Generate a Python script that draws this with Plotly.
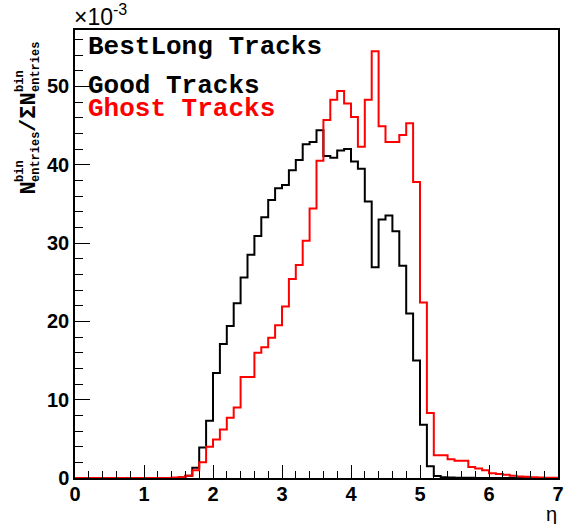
import plotly.graph_objects as go

# bin edges: 70 bins of width 0.1 from 0 to 7
bin_width = 0.1
n_bins = 70
edges = [round(i * bin_width, 1) for i in range(n_bins + 1)]

# normalized entries, in units of 1e-3 (bins 0.0 .. 6.9)
good_tracks = [0.0] * 15 + [
    0.05, 0.3, 1.3, 3.9, 7.3,                # 1.5 - 1.9
    13.4, 17.1, 19.4, 22.3, 25.6,            # 2.0 - 2.4
    28.5, 30.9, 33.3, 35.5, 37.0,            # 2.5 - 2.9
    37.4, 39.3, 40.6, 42.6, 42.9,            # 3.0 - 3.4
    44.4, 41.1, 40.9, 41.8, 42.0,            # 3.5 - 3.9
    40.4, 39.5, 35.3, 26.9, 33.0,            # 4.0 - 4.4
    33.5, 31.5, 27.1, 21.0, 15.0,            # 4.5 - 4.9
    6.8, 1.5, 0.25, 0.1, 0.05,               # 5.0 - 5.4
    0.03, 0.02, 0.02, 0.01, 0.01,            # 5.5 - 5.9
    0.0, 0.0, 0.0, 0.0, 0.0,                 # 6.0 - 6.4
    0.0, 0.0, 0.0, 0.0, 0.0,                 # 6.5 - 6.9
]
ghost_tracks = [0.0] * 14 + [
    0.05,                                    # 1.4
    0.1, 0.3, 1.0, 2.0, 4.0,                 # 1.5 - 1.9
    4.9, 6.2, 7.7, 9.0, 12.9,                # 2.0 - 2.4
    12.9, 16.0, 16.7, 17.9, 19.5,            # 2.5 - 2.9
    21.9, 25.4, 27.2, 30.3, 34.4,            # 3.0 - 3.4
    40.5, 45.7, 48.3, 49.4, 47.8,            # 3.5 - 3.9
    46.1, 42.3, 48.3, 54.5, 44.9,            # 4.0 - 4.4
    42.9, 42.9, 43.8, 45.3, 37.8,            # 4.5 - 4.9
    22.4, 8.3, 2.9, 2.9, 2.4,                # 5.0 - 5.4
    2.2, 2.2, 1.4, 1.2, 1.0,                 # 5.5 - 5.9
    0.6, 0.5, 0.4, 0.3, 0.2,                 # 6.0 - 6.4
    0.15, 0.1, 0.05, 0.03, 0.02,             # 6.5 - 6.9
]

x_ticks = [0, 1, 2, 3, 4, 5, 6, 7]
y_ticks = [0, 10, 20, 30, 40, 50]

W, H = 565, 524
ML, MR, MT, MB = 75, 7, 30, 46
PW, PH = W - ML - MR, H - MT - MB


def px(xp):
    return (xp - ML) / PW


def py(yp):
    return (H - MB - yp) / PH


def step(vals):
    return list(vals) + [vals[-1]]


fig = go.Figure()
fig.add_trace(go.Scatter(x=edges, y=step(good_tracks), mode="lines",
                         line=dict(shape="hv", color="black", width=2),
                         showlegend=False))
fig.add_trace(go.Scatter(x=edges, y=step(ghost_tracks), mode="lines",
                         line=dict(shape="hv", color="#ff0000", width=2),
                         showlegend=False))

tickfont = dict(family="Liberation Sans", size=20, color="black", weight="bold")
fig.update_layout(
    width=W, height=H,
    margin=dict(l=ML, r=MR, t=MT, b=MB, pad=0, autoexpand=False),
    paper_bgcolor="white", plot_bgcolor="white",
    xaxis=dict(range=[0, 7], tickvals=x_ticks, ticks="inside", ticklen=13,
               tickwidth=1, tickcolor="black", showline=True, mirror=True,
               linecolor="black", linewidth=1.5, showgrid=False, zeroline=False,
               tickfont=tickfont, ticklabelstandoff=-3, automargin=False,
               minor=dict(dtick=0.2, ticks="inside", ticklen=7, tickwidth=1,
                          tickcolor="black", showgrid=False)),
    yaxis=dict(range=[0, 57.2], tickvals=y_ticks, ticks="inside", ticklen=15,
               tickwidth=1, tickcolor="black", showline=True, mirror=True,
               linecolor="black", linewidth=1.5, showgrid=False, zeroline=False,
               tickfont=tickfont, automargin=False,
               minor=dict(dtick=2, ticks="inside", ticklen=8, tickwidth=1,
                          tickcolor="black", showgrid=False)),
)

mono = "Liberation Mono"
ann = []
# legend texts
for txt, col, yc in [("BestLong Tracks", "black", 47),
                     ("Good Tracks", "black", 85.5),
                     ("Ghost Tracks", "#ff0000", 109.5)]:
    ann.append(dict(text=txt, x=px(86), y=py(yc), xref="paper", yref="paper",
                    xanchor="left", yanchor="middle", showarrow=False,
                    font=dict(family=mono, size=26, color=col, weight="bold")))
# exponent
ann.append(dict(text="×10<sup>-3</sup>", x=px(72), y=py(15), xref="paper",
                yref="paper", xanchor="left", yanchor="middle", showarrow=False,
                font=dict(family="Liberation Sans", size=23, color="black")))
# x title
ann.append(dict(text="η", x=px(559), y=py(514), xref="paper", yref="paper",
                xanchor="right", yanchor="middle", showarrow=False,
                font=dict(family="Liberation Sans", size=20, color="black")))
# y title pieces (rotated)
pieces = [("N", 22, 29, 196), ("entries", 12, 36, 183), ("bin", 12, 20, 183),
          ("/ΣN", 22, 29, 133), ("entries", 12, 36, 93), ("bin", 12, 20, 93)]
for txt, size, xc, yb in pieces:
    ann.append(dict(text=txt, x=px(xc), y=py(yb), xref="paper", yref="paper",
                    xanchor="center", yanchor="bottom", textangle=-90,
                    showarrow=False, borderpad=0,
                    font=dict(family=mono, size=size, color="black",
                              weight="bold")))
fig.update_layout(annotations=ann)

fig.write_html("out.html")
